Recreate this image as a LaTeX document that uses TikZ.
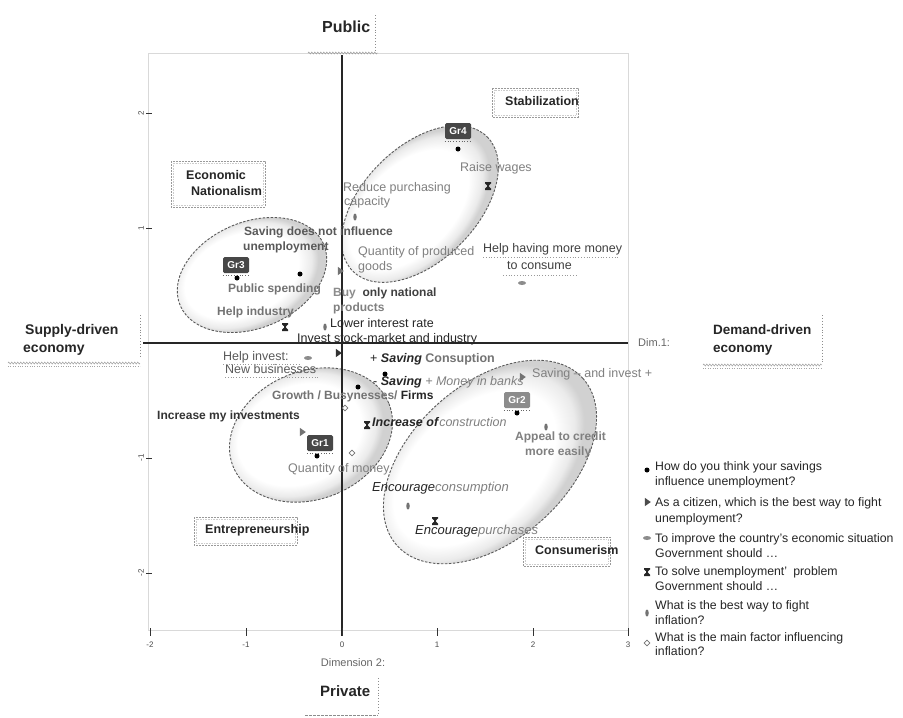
\documentclass[tikz,border=0pt]{standalone}
\usepackage{fontspec}
\setmainfont{Liberation Sans}
\usetikzlibrary{shapes.geometric,decorations.pathmorphing}
\pgfdeclareradialshading{ellshade}{\pgfpoint{-5bp}{3bp}}{color(0bp)=(white); color(19bp)=(white); color(23bp)=(black!8); color(25bp)=(black!18); color(50bp)=(black!18)}
\begin{document}
\begin{tikzpicture}[x=1pt,y=-1pt,
  lbl/.style={inner sep=0pt, anchor=west, text height=9pt, text depth=2.5pt, font=\fontsize{12.5}{14}\selectfont, text=black!85},
  glbl/.style={lbl, text=black!50},
  blbl/.style={lbl, font=\fontsize{12}{14}\selectfont\bfseries, text=black!75},
  gblbl/.style={blbl, text=black!55},
  boxlbl/.style={lbl, font=\fontsize{12.5}{14}\selectfont\bfseries, text=black!85},
  polelbl/.style={lbl, font=\fontsize{14}{16}\selectfont\bfseries, text=black!85},
  lgd/.style={lbl, font=\fontsize{12.3}{14}\selectfont, text=black!85},
  ticklbl/.style={inner sep=0pt, font=\fontsize{8}{9}\selectfont, text=black!70},
  framebox/.style={draw=black!40, dash pattern=on 2pt off 1pt, line width=0.8pt},
  innerbox/.style={draw=black!20, densely dotted, line width=0.6pt},
  grp/.style={rounded corners=1.5pt, fill=black!72, text=white, font=\fontsize{10}{11}\selectfont\bfseries, inner sep=1pt, minimum width=26pt, minimum height=16pt},
  clust/.style={draw=black!65, dash pattern=on 2.5pt off 1.5pt, line width=0.9pt},
  wavy/.style={draw=black!45, decorate, decoration={zigzag, segment length=3pt, amplitude=1pt}},
  dotv/.style={draw=black!45, dotted, line width=0.9pt},
  mdot/.style={circle, fill=black, inner sep=0pt, minimum size=5pt},
  mtri/.style={isosceles triangle, isosceles triangle apex angle=70, fill=black!55, inner sep=0pt, minimum height=6pt, minimum width=7pt},
  mdash/.style={ellipse, fill=black!45, inner sep=0pt, minimum width=8pt, minimum height=4pt},
  mthin/.style={ellipse, fill=black!55, inner sep=0pt, minimum width=3.5pt, minimum height=7pt},
  mdia/.style={diamond, draw=black!55, line width=0.8pt, inner sep=0pt, minimum size=6pt},
  hg/.pic={\fill[black!85] (-3,-4) -- (3,-4) -- (3,-2.5) -- (1,-0.8) -- (1,0.8) -- (3,2.5) -- (3,4) -- (-3,4) -- (-3,2.5) -- (-1,0.8) -- (-1,-0.8) -- (-3,-2.5) -- cycle;}
]
\useasboundingbox (0,0) rectangle (903,718);
\fill[white] (0,0) rectangle (903,718);

% plot frame
\draw[black!15, line width=0.8pt] (148,53) rectangle (628,630);

% cluster ellipses
\begin{scope}[transform canvas={rotate around={45:(420,204)}}]
  \shade[shading=ellshade] (420,204) ellipse [x radius=95, y radius=57];
  \draw[clust] (420,204) ellipse [x radius=95, y radius=57];
\end{scope}
\begin{scope}[transform canvas={rotate around={23:(252,275)}}]
  \shade[shading=ellshade] (252,275) ellipse [x radius=78, y radius=53];
  \draw[clust] (252,275) ellipse [x radius=78, y radius=53];
\end{scope}
\begin{scope}[transform canvas={rotate around={22:(311,435)}}]
  \shade[shading=ellshade] (311,435) ellipse [x radius=84, y radius=64];
  \draw[clust] (311,435) ellipse [x radius=84, y radius=64];
\end{scope}
\begin{scope}[transform canvas={rotate around={42:(490,462)}}]
  \shade[shading=ellshade] (490,462) ellipse [x radius=125, y radius=78];
  \draw[clust] (490,462) ellipse [x radius=125, y radius=78];
\end{scope}

% axes
\coordinate (vtop) at (342,55);
\coordinate (vbot) at (342,636);
\coordinate (hleft) at (143,343);
\coordinate (hright) at (628,343);
\draw[black!85, line width=1.8pt] (vtop) -- (vbot);
\draw[black!85, line width=1.5pt] (hleft) -- (hright);

% ticks
\foreach \xx/\tl in {150/-2,246/-1,342/0,437/1,533/2,628/3}{
  \draw[black!80, line width=1pt] (\xx,628) -- (\xx,636);
  \node[ticklbl] (bt\xx) at (\xx,645) {\tl};
}
\foreach \yy/\tl in {113/2,228/1,458/-1,573/-2}{
  \draw[black!80, line width=1pt] (146,\yy) -- (152,\yy);
  \node[ticklbl, rotate=90] (lt\yy) at (141,\yy) {\tl};
}

% pole labels
\node[polelbl, font=\fontsize{16}{18}\selectfont\bfseries] (pub) at (322,29) {Public};
\draw[dotv] (375,15) -- (375,50);
\draw[wavy] (308,53) -- (378,53);

\node[polelbl, font=\fontsize{15}{17}\selectfont\bfseries] (priv) at (320,693) {Private};
\draw[dotv] (378,678) -- (378,713);
\draw[black!45, dash pattern=on 3pt off 1pt, line width=1pt] (305,715) -- (378,715);

\node[polelbl] (sup1) at (25,331) {Supply-driven};
\node[polelbl] (sup2) at (23,349) {economy};
\draw[dotv] (140,315) -- (140,358);
\draw[wavy] (8,363) -- (140,363);
\draw[black!35, dotted] (8,366) -- (140,366);

\node[polelbl, font=\fontsize{13.5}{15}\selectfont\bfseries] (dem1) at (713,331) {Demand-driven};
\node[polelbl, font=\fontsize{13.5}{15}\selectfont\bfseries] (dem2) at (713,349) {economy};
\draw[dotv] (822,315) -- (822,363);
\draw[wavy] (703,365) -- (822,365);
\draw[black!35, dotted] (703,368) -- (822,368);

\node[lbl, font=\fontsize{11}{13}\selectfont, text=black!60] (dim1) at (638,343) {Dim.1:};
\node[lbl, anchor=center, font=\fontsize{11}{13}\selectfont, text=black!60] (dim2) at (353,663) {Dimension 2:};

% quadrant boxes
\draw[framebox] (492,88) rectangle (578,117);
\draw[innerbox] (494,90) rectangle (576,115);
\node[boxlbl] (stab) at (505,102) {Stabilization};

\draw[framebox] (171,161) rectangle (265,207);
\draw[innerbox] (173,163) rectangle (263,205);
\node[boxlbl] (econ1) at (186,176) {Economic};
\node[boxlbl] (econ2) at (191,192) {Nationalism};

\draw[framebox] (194,517) rectangle (297,545);
\draw[innerbox] (196,519) rectangle (295,543);
\node[boxlbl] (entr) at (205,530) {Entrepreneurship};

\draw[framebox] (523,537) rectangle (610,566);
\draw[innerbox] (525,539) rectangle (608,564);
\node[boxlbl] (cons) at (535,551) {Consumerism};

% group labels
\node[grp] (g4) at (458,131) {Gr4};
\node[grp] (g3) at (236,265) {Gr3};
\node[grp, fill=black!45] (g2) at (517,400) {Gr2};
\node[grp] (g1) at (320,443) {Gr1};
\foreach \g in {g4,g3,g2,g1}{
  \draw[black!60, dotted, line width=0.8pt] ([yshift=-2pt]\g.south west) -- ([yshift=-2pt]\g.south east);
}

% category labels
\node[glbl] (rw) at (460,168) {Raise wages};
\node[glbl] (rp1) at (343,188) {Reduce purchasing};
\node[glbl] (rp2) at (344,202) {capacity};
\node[blbl, text=black!65] (sd1) at (244,232) {Saving does not influence};
\node[blbl, text=black!65] (sd2) at (243,247) {unemployment};
\node[glbl] (qp1) at (358,252) {Quantity of produced};
\node[glbl] (qp2) at (358,267) {goods};
\node[lbl, text=black!75] (hh1) at (483,249) {Help having more money};
\node[lbl, text=black!75] (hh2) at (507,266) {to consume};
\draw[black!40, dotted, line width=0.8pt] (483,257) -- (620,257);
\draw[black!40, dotted, line width=0.8pt] (503,275) -- (578,275);
\node[gblbl] (ps) at (228,289) {Public spending};
\node[blbl] (bn1) at (333,293) {\textcolor{black!45}{Buy}\ \ only national};
\node[blbl, text=black!50] (bn2) at (333,308) {products};
\node[gblbl] (hi) at (217,312) {Help industry};
\node[lbl] (lir) at (330,324) {Lower interest rate};
\node[lbl] (isi) at (297,339) {Invest stock-market and industry};
\node[lbl, text=black!65] (hv1) at (223,357) {Help invest:};
\node[lbl, text=black!65] (hv2) at (225,370) {New businesses};
\draw[black!40, dotted, line width=0.8pt] (223,364) -- (300,364);
\draw[black!40, dotted, line width=0.8pt] (225,377) -- (318,377);
\node[lbl] (sc) at (370,359) {+ \textbf{\textit{Saving}} \textcolor{black!55}{\textbf{Consuption}}};
\node[lbl] (sm) at (373,382) {- \textbf{\textit{Saving}} \textcolor{black!50}{\textit{+ Money in banks}}};
\node[gblbl] (gb) at (272,396) {Growth / Busynesses/ \textcolor{black!85}{Firms}};
\node[glbl] (si) at (532,374) {Saving -- and invest +};
\node[blbl, text=black!80] (imi) at (157,416) {Increase my investments};
\node[lbl] (ic) at (372,423) {\textbf{\textit{Increase of}}\textcolor{black!50}{\textit{construction}}};
\node[gblbl, text=black!50] (ac1) at (515,437) {Appeal to credit};
\node[gblbl, text=black!50] (ac2) at (525,452) {more easily};
\node[glbl] (qm) at (288,469) {Quantity of money};
\node[lbl, font=\fontsize{13}{15}\selectfont] (ec) at (372,488) {\textit{Encourage}\textcolor{black!50}{\textit{consumption}}};
\node[lbl, font=\fontsize{13}{15}\selectfont] (ep) at (415,531) {\textit{Encourage}\textcolor{black!50}{\textit{purchases}}};

% markers
\node[mdot] (d1) at (458,149) {};
\node[mdot] (d2) at (237,278) {};
\node[mdot] (d3) at (300,274) {};
\node[mdot] (d4) at (385,374) {};
\node[mdot] (d5) at (358,387) {};
\node[mdot] (d6) at (517,413) {};
\node[mdot] (d7) at (317,456) {};
\node[mtri] (t1) at (340,271) {};
\node[mtri, fill=black!80] (t2) at (338,353) {};
\node[mtri] (t3) at (522,377) {};
\node[mtri] (t4) at (302,432) {};
\pic at (488,186) {hg};
\pic at (285,327) {hg};
\pic at (367,425) {hg};
\pic at (435,521) {hg};
\node[mdash] (e1) at (522,283) {};
\node[mdash] (e2) at (308,358) {};
\node[mthin] (n1) at (355,217) {};
\node[mthin] (n2) at (325,327) {};
\node[mthin] (n3) at (546,427) {};
\node[mthin] (n4) at (408,506) {};
\node[mdia] (m1) at (345,408) {};
\node[mdia] (m2) at (352,453) {};

% legend
\node[mdot] (ld1) at (647,470) {};
\node[lgd] (lg1a) at (655,467) {How do you think your savings};
\node[lgd] (lg1b) at (655,482) {influence unemployment?};
\node[mtri, fill=black!70] (ld2) at (647,502) {};
\node[lgd] (lg2a) at (655,503) {As a citizen, which is the best way to fight};
\node[lgd] (lg2b) at (655,519) {unemployment?};
\node[mdash] (ld3) at (647,538) {};
\node[lgd] (lg3a) at (655,539) {To improve the country’s economic situation};
\node[lgd] (lg3b) at (655,554) {Government should …};
\pic at (647,572) {hg};
\node[lgd] (lg4a) at (655,572) {To solve unemployment’\enspace problem};
\node[lgd] (lg4b) at (655,587) {Government should …};
\node[mthin] (ld5) at (647,613) {};
\node[lgd] (lg5a) at (655,606) {What is the best way to fight};
\node[lgd] (lg5b) at (655,621) {inflation?};
\node[mdia] (ld6) at (647,643) {};
\node[lgd] (lg6a) at (655,638) {What is the main factor influencing};
\node[lgd] (lg6b) at (655,652) {inflation?};
\end{tikzpicture}
\end{document}
